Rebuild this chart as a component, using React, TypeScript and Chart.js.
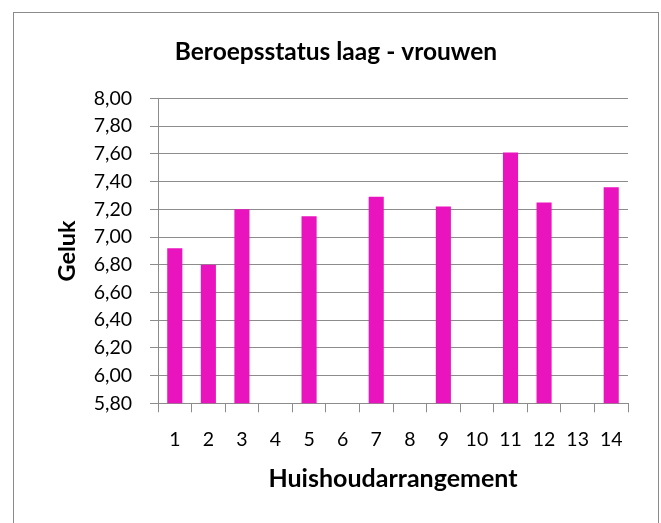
import React, { useEffect, useRef } from "react";
import { Chart, registerables } from "chart.js";

Chart.register(...registerables);

const categories = ["1", "2", "3", "4", "5", "6", "7", "8", "9", "10", "11", "12", "13", "14"];
const geluk: (number | null)[] = [6.92, 6.8, 7.2, null, 7.15, null, 7.29, null, 7.22, null, 7.61, 7.25, null, 7.36];
const chartTitle = "Beroepsstatus laag - vrouwen";
const yTitle = "Geluk";
const xTitle = "Huishoudarrangement";
const yMin = 5.8;
const yMax = 8.0;
const yStep = 0.2;

const FONT = "Lato, 'Open Sans', sans-serif";
const GRID = "#8c8c8c";

export default function App() {
  const ref = useRef<HTMLCanvasElement | null>(null);
  useEffect(() => {
    if (!ref.current) return;
    const H = 509;
    const chart = new Chart(ref.current, {
      type: "bar",
      data: {
        labels: categories,
        datasets: [
          {
            data: geluk,
            backgroundColor: "#EA14BE",
            borderWidth: 0,
            barPercentage: 0.45,
            categoryPercentage: 1.0,
          },
        ],
      },
      options: {
        responsive: false,
        animation: false,
        devicePixelRatio: 1,
        layout: { padding: 0 },
        plugins: {
          legend: { display: false },
          tooltip: { enabled: false },
          title: {
            display: true,
            text: chartTitle,
            color: "#000",
            font: { family: FONT, size: 24.5, weight: "bold", lineHeight: 1.2 },
            padding: { top: 23.3, bottom: 31.8 },
          },
        },
        scales: {
          x: {
            grid: {
              display: true,
              offset: true,
              drawOnChartArea: false,
              drawTicks: true,
              tickLength: 9,
              color: GRID,
            },
            border: { display: true, color: GRID, width: 1 },
            ticks: {
              color: "#000",
              font: { family: FONT, size: 19.5, lineHeight: 1.2 },
              padding: 16,
              maxRotation: 0,
              autoSkip: false,
            },
            title: {
              display: true,
              text: xTitle,
              color: "#000",
              font: { family: FONT, size: 25, weight: "bold", lineHeight: 1.2 },
              padding: { top: 0, bottom: 29 },
            },
            afterFit: (s: any) => {
              s.height = H - 389.3;
            },
          },
          y: {
            min: yMin,
            max: yMax,
            grid: {
              color: GRID,
              drawTicks: true,
              tickLength: 8,
            },
            border: { display: true, color: GRID, width: 1 },
            ticks: {
              stepSize: yStep,
              maxTicksLimit: 20,
              autoSkip: false,
              color: "#000",
              font: { family: FONT, size: 19.5, lineHeight: 1.2 },
              padding: 18,
              callback: (v: any) => Number(v).toFixed(2).replace(".", ","),
            },
            title: {
              display: true,
              text: yTitle,
              color: "#000",
              font: { family: FONT, size: 23.5, weight: "bold", lineHeight: 1.2 },
              padding: { top: 38, bottom: 0 },
            },
            afterFit: (s: any) => {
              s.width = 143;
            },
          },
          yRight: {
            position: "right",
            display: true,
            min: yMin,
            max: yMax,
            grid: { display: false, drawTicks: false },
            border: { display: false },
            ticks: { display: false },
            afterFit: (s: any) => {
              s.width = 29;
            },
          },
        },
      },
    });
    return () => chart.destroy();
  }, []);

  return (
    <div style={{ position: "fixed", left: 0, top: 0, width: 661, height: 523, overflow: "hidden", background: "#fff" }}>
      <div
        style={{
          position: "absolute",
          left: 12.5,
          top: 12,
          width: 646,
          height: 560,
          border: "1.5px solid #8a8a8a",
          boxSizing: "border-box",
        }}
      />
      <canvas
        ref={ref}
        width={642}
        height={509}
        style={{ position: "absolute", left: 15, top: 14, width: 642, height: 509 }}
      />
    </div>
  );
}
